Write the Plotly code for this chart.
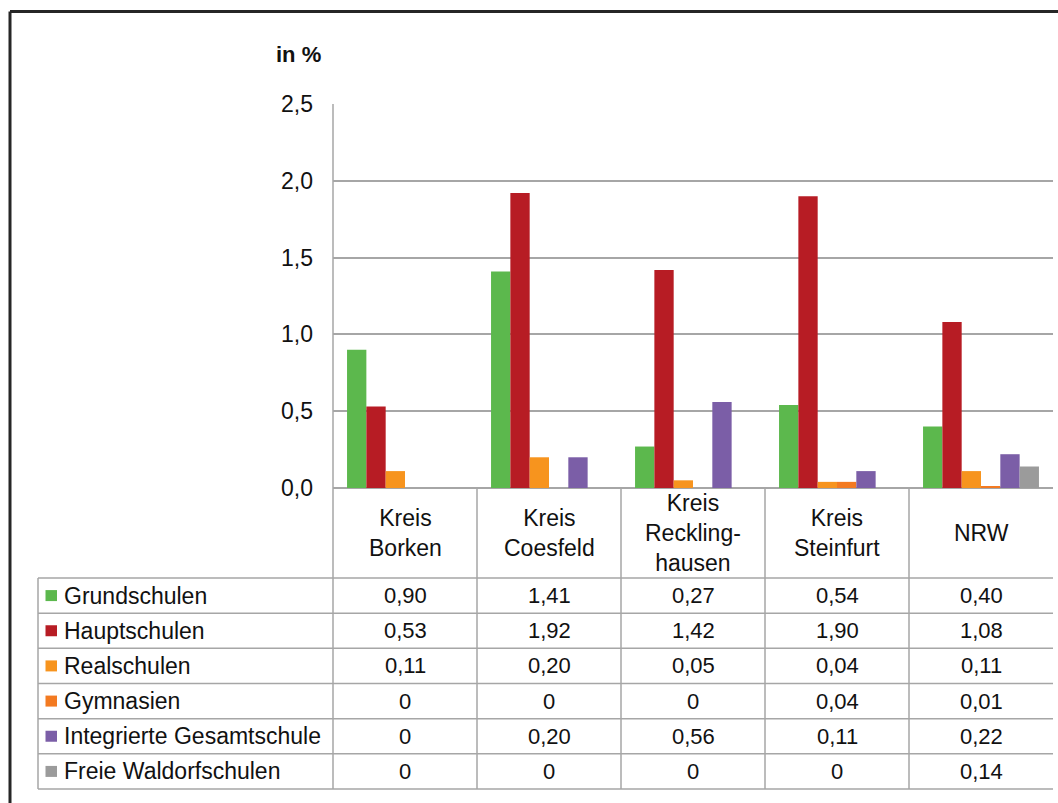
import plotly.graph_objects as go

categories = ["Kreis<br>Borken", "Kreis<br>Coesfeld", "Kreis<br>Reckling-<br>hausen", "Kreis<br>Steinfurt", "NRW"]
series_names = ["Grundschulen", "Hauptschulen", "Realschulen", "Gymnasien",
                "Integrierte Gesamtschule", "Freie Waldorfschulen"]
grundschulen = [0.90, 1.41, 0.27, 0.54, 0.40]
hauptschulen = [0.53, 1.92, 1.42, 1.90, 1.08]
realschulen = [0.11, 0.20, 0.05, 0.04, 0.11]
gymnasien = [0, 0, 0, 0.04, 0.01]
gesamtschule = [0, 0.20, 0.56, 0.11, 0.22]
waldorf = [0, 0, 0, 0, 0.14]
series_values = [grundschulen, hauptschulen, realschulen, gymnasien, gesamtschule, waldorf]
colors = ["#5cb84d", "#b71c24", "#f7941e", "#f37a21", "#7b5ea7", "#9b9b9b"]
y_ticks = [0, 0.5, 1.0, 1.5, 2.0, 2.5]

W, H = 1058, 803
L, R, T, B = 333, 5, 104, 315
PW, PH = W - L - R, H - T - B


def X(px):
    return (px - L) / PW


def Y(py):
    return (H - B - py) / PH


FONT = "Liberation Sans, Arial, sans-serif"
FS = 23
GRID = "#a6a6a6"

fig = go.Figure()
for name, vals, col in zip(series_names, series_values, colors):
    fig.add_trace(go.Bar(x=list(range(len(categories))), y=vals, name=name,
                         marker=dict(color=col, line=dict(width=0))))

shapes = []
annotations = []

# outer frame (top & left visible)
shapes.append(dict(type="line", xref="paper", yref="paper", x0=X(10), x1=X(1080),
                   y0=Y(11.5), y1=Y(11.5), line=dict(color="#262626", width=3)))
shapes.append(dict(type="line", xref="paper", yref="paper", x0=X(10), x1=X(10),
                   y0=Y(11.5), y1=Y(830), line=dict(color="#262626", width=3)))

# table geometry
row_top = 578
row_h = (789 - 578) / 6
tbl_left = 38

# vertical at plot left edge through table
shapes.append(dict(type="line", xref="paper", yref="paper", x0=0, x1=0,
                   y0=1, y1=Y(789), line=dict(color=GRID, width=1.5)))
# category dividers
for i in range(1, len(categories)):
    shapes.append(dict(type="line", xref="x", yref="paper", x0=i - 0.5, x1=i - 0.5,
                       y0=0, y1=Y(789), line=dict(color=GRID, width=1.5)))
# table left edge
shapes.append(dict(type="line", xref="paper", yref="paper", x0=X(tbl_left), x1=X(tbl_left),
                   y0=Y(row_top), y1=Y(789), line=dict(color=GRID, width=1.5)))
# row lines
for k in range(7):
    py = row_top + k * row_h
    shapes.append(dict(type="line", xref="paper", yref="paper", x0=X(tbl_left), x1=1,
                       y0=Y(py), y1=Y(py), line=dict(color=GRID, width=1.5)))

# category labels
for i, c in enumerate(categories):
    annotations.append(dict(x=i, xref="x", y=Y(533), yref="paper", text=c, showarrow=False,
                            xanchor="center", yanchor="middle",
                            font=dict(family=FONT, size=FS, color="#111")))

def fmt(v):
    if v == 0:
        return "0"
    return f"{v:.2f}".replace(".", ",")

for k, (name, vals, col) in enumerate(zip(series_names, series_values, colors)):
    cy = row_top + row_h * (k + 0.5)
    shapes.append(dict(type="rect", xref="paper", yref="paper", x0=X(45.5), x1=X(57),
                       y0=Y(cy + 5.5), y1=Y(cy - 5.5), fillcolor=col, line=dict(width=0)))
    annotations.append(dict(x=X(62), xref="paper", y=Y(cy), yref="paper", text=name,
                            showarrow=False, xanchor="left", yanchor="middle",
                            font=dict(family=FONT, size=FS, color="#111")))
    for i, v in enumerate(vals):
        annotations.append(dict(x=i, xref="x", y=Y(cy), yref="paper", text=fmt(v),
                                showarrow=False, xanchor="center", yanchor="middle",
                                font=dict(family=FONT, size=FS - 1, color="#111")))

# axis title
annotations.append(dict(x=X(298), xref="paper", y=Y(55), yref="paper", text="<b>in %</b>",
                        showarrow=False, xanchor="center", yanchor="middle",
                        font=dict(family=FONT, size=22, color="#111")))

fig.update_layout(
    width=W, height=H,
    margin=dict(l=L, r=R, t=T, b=B),
    paper_bgcolor="white", plot_bgcolor="white",
    separators=",.",
    barmode="group", bargap=0.195, bargroupgap=0,
    showlegend=False,
    shapes=shapes, annotations=annotations,
    font=dict(family=FONT, size=FS, color="#111"),
    xaxis=dict(range=[-0.5, len(categories) - 0.5], showticklabels=False, showgrid=False,
               zeroline=False, showline=False, fixedrange=True),
    yaxis=dict(range=[0, 2.5], tickvals=y_ticks, tickformat=".1f", showgrid=True,
               gridcolor=GRID, gridwidth=1.5, zeroline=True, zerolinecolor=GRID,
               zerolinewidth=1.5, showline=False, ticks="", ticklabelstandoff=19,
               tickfont=dict(family=FONT, size=FS, color="#111")),
)

fig.write_html("out.html")
